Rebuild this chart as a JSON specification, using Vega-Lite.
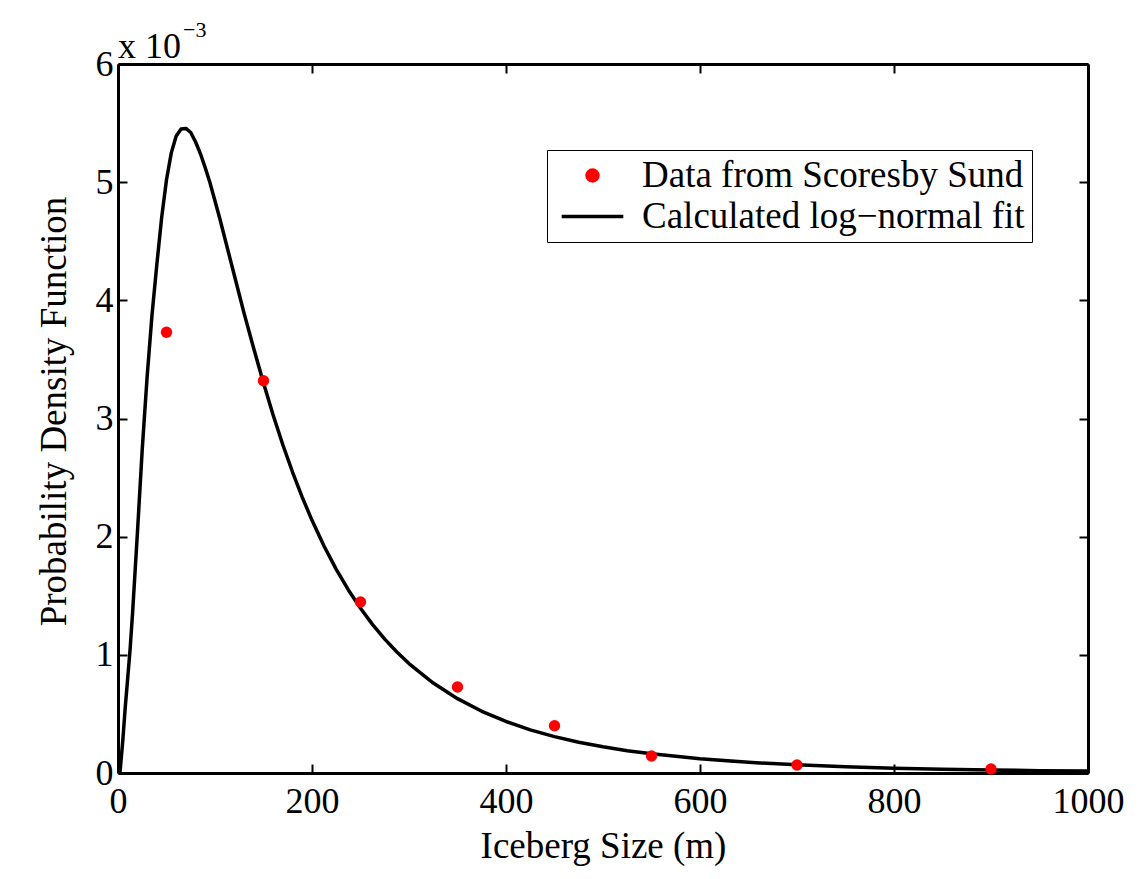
{
  "$schema": "https://vega.github.io/schema/vega-lite/v6.json",
  "width": 970,
  "height": 709,
  "autosize": {"type": "none"},
  "padding": {"left": 118, "top": 64, "right": 60, "bottom": 106},
  "background": "white",
  "config": {
    "font": "Liberation Serif",
    "view": {"stroke": null},
    "axis": {
      "grid": false,
      "domainColor": "black",
      "domainWidth": 3,
      "tickColor": "black",
      "tickWidth": 2,
      "tickSize": -9,
      "labelFont": "Liberation Serif",
      "labelFontSize": 36,
      "labelColor": "black",
      "titleFont": "Liberation Serif",
      "titleFontSize": 37,
      "titleFontWeight": "normal",
      "titleColor": "black",
      "labelFlush": false,
      "labelOverlap": false
    }
  },
  "resolve": {"axis": {"x": "independent", "y": "independent"}},
  "layer": [
    {
      "data": {"values": [
        {"x": 0, "y": 0}, {"x": 2, "y": 0}, {"x": 5, "y": 0.00028}, {"x": 7.5, "y": 0.00056},
        {"x": 10, "y": 0.0008}, {"x": 12.5, "y": 0.00105}, {"x": 15, "y": 0.00135},
        {"x": 20, "y": 0.00203}, {"x": 25, "y": 0.00274}, {"x": 30, "y": 0.00335},
        {"x": 35, "y": 0.00387}, {"x": 40, "y": 0.0043}, {"x": 45, "y": 0.0047},
        {"x": 50, "y": 0.00502}, {"x": 55, "y": 0.00525}, {"x": 60, "y": 0.00539},
        {"x": 65, "y": 0.00545}, {"x": 70, "y": 0.005455}, {"x": 75, "y": 0.00542},
        {"x": 80, "y": 0.00534}, {"x": 85, "y": 0.00524}, {"x": 90, "y": 0.00512},
        {"x": 95, "y": 0.00499}, {"x": 100, "y": 0.00484}, {"x": 105, "y": 0.00469},
        {"x": 110, "y": 0.00453}, {"x": 115, "y": 0.00437}, {"x": 120, "y": 0.00421},
        {"x": 130, "y": 0.00389}, {"x": 140, "y": 0.00359}, {"x": 150, "y": 0.0033},
        {"x": 160, "y": 0.003027}, {"x": 170, "y": 0.002776}, {"x": 180, "y": 0.002545},
        {"x": 190, "y": 0.002333}, {"x": 200, "y": 0.002138}, {"x": 212.5, "y": 0.001919},
        {"x": 225, "y": 0.001723}, {"x": 237.5, "y": 0.001549}, {"x": 250, "y": 0.001394},
        {"x": 262.5, "y": 0.001256}, {"x": 275, "y": 0.001133}, {"x": 287.5, "y": 0.001024},
        {"x": 300, "y": 0.000926}, {"x": 325, "y": 0.000761}, {"x": 350, "y": 0.000629},
        {"x": 375, "y": 0.000522}, {"x": 400, "y": 0.000436}, {"x": 425, "y": 0.000365},
        {"x": 450, "y": 0.000308}, {"x": 475, "y": 0.00026}, {"x": 500, "y": 0.000222},
        {"x": 525, "y": 0.000189}, {"x": 550, "y": 0.000162}, {"x": 600, "y": 0.00012},
        {"x": 650, "y": 0.00009}, {"x": 700, "y": 0.000069}, {"x": 750, "y": 0.000053},
        {"x": 800, "y": 0.000041}, {"x": 850, "y": 0.000032}, {"x": 900, "y": 0.000025},
        {"x": 950, "y": 0.00002}, {"x": 1000, "y": 0.000016}
      ]},
      "transform": [{"calculate": "'Calculated log−normal fit'", "as": "series"}],
      "mark": {"type": "line", "strokeWidth": 3.5, "clip": true, "strokeJoin": "round"},
      "encoding": {
        "x": {"field": "x", "type": "quantitative",
          "scale": {"domain": [0, 1000], "nice": false, "zero": false},
          "axis": {"orient": "bottom", "title": "Iceberg Size (m)", "values": [0, 200, 400, 600, 800, 1000],
            "labelExpr": "datum.value + ''",
            "labelPadding": 20, "titlePadding": 9}},
        "y": {"field": "y", "type": "quantitative",
          "scale": {"domain": [0, 0.006], "nice": false},
          "axis": {"orient": "left", "title": "Probability Density Function",
            "values": [0, 0.001, 0.002, 0.003, 0.004, 0.005, 0.006],
            "labelExpr": "round(datum.value * 1000) + ''",
            "labelPadding": 14, "titlePadding": 22, "titleY": 347}},
        "color": {"field": "series", "type": "nominal",
          "scale": {"domain": ["Data from Scoresby Sund", "Calculated log−normal fit"], "range": ["red", "black"]},
          "legend": {
            "orient": "none", "legendX": 429, "legendY": 86, "title": null,
            "labelFont": "Liberation Serif", "labelFontSize": 37, "labelColor": "black",
            "labelLimit": 600, "labelOffset": 31,
            "labelExpr": "datum.label + '\u2002\u2009'",
            "strokeColor": "black", "fillColor": "white", "padding": 7,
            "symbolSize": 3000, "symbolOffset": 20, "rowPadding": 3,
            "encode": {"symbols": {"update": {
              "shape": {"signal": "datum.value === 'Calculated log−normal fit' ? 'stroke' : 'circle'"},
              "size": {"signal": "datum.value === 'Calculated log−normal fit' ? 3800 : 120"},
              "strokeWidth": {"value": 3.5},
              "fill": {"signal": "datum.value === 'Calculated log−normal fit' ? 'transparent' : 'red'"},
              "stroke": {"signal": "datum.value === 'Calculated log−normal fit' ? 'black' : 'transparent'"},
              "opacity": {"value": 1}
            }}}
          }}
      }
    },
    {
      "data": {"values": [
        {"x": 50, "y": 0.00373}, {"x": 150, "y": 0.00332}, {"x": 250, "y": 0.001447},
        {"x": 350, "y": 0.000728}, {"x": 450, "y": 0.0004}, {"x": 550, "y": 0.000144},
        {"x": 700, "y": 0.000068}, {"x": 900, "y": 0.000034}
      ]},
      "transform": [{"calculate": "'Data from Scoresby Sund'", "as": "series"}],
      "mark": {"type": "point", "filled": true, "size": 130, "opacity": 1, "shape": "circle"},
      "encoding": {
        "x": {"field": "x", "type": "quantitative",
          "axis": {"orient": "top", "title": null, "labels": false, "values": [0, 200, 400, 600, 800, 1000]}},
        "y": {"field": "y", "type": "quantitative",
          "axis": {"orient": "right", "title": null, "labels": false,
            "values": [0, 0.001, 0.002, 0.003, 0.004, 0.005, 0.006]}},
        "color": {"field": "series", "type": "nominal"}
      }
    },
    {
      "data": {"values": [{"x": 0, "y": 0.006, "t": "x 10"}]},
      "mark": {"type": "text", "font": "Liberation Serif", "fontSize": 36, "align": "left", "baseline": "alphabetic", "dy": -6, "color": "black"},
      "encoding": {
        "x": {"field": "x", "type": "quantitative", "axis": null},
        "y": {"field": "y", "type": "quantitative", "axis": null},
        "text": {"field": "t"}
      }
    },
    {
      "data": {"values": [{"x": 0, "y": 0.006, "t": "−3"}]},
      "mark": {"type": "text", "font": "Liberation Serif", "fontSize": 22, "align": "left", "baseline": "alphabetic", "dx": 65, "dy": -27, "color": "black"},
      "encoding": {
        "x": {"field": "x", "type": "quantitative", "axis": null},
        "y": {"field": "y", "type": "quantitative", "axis": null},
        "text": {"field": "t"}
      }
    }
  ]
}
